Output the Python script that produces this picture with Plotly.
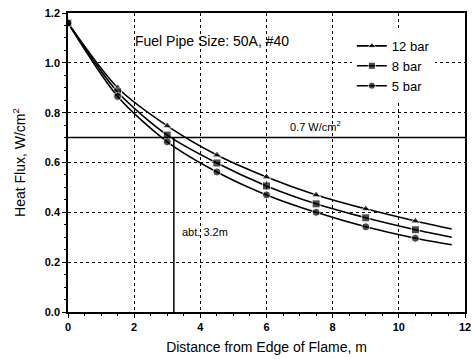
import plotly.graph_objects as go

x = [0, 1.5, 3, 4.5, 6, 7.5, 9, 10.5, 11.6]
bar12 = [1.16, 0.90, 0.747, 0.630, 0.542, 0.470, 0.414, 0.365, 0.333]
bar8 = [1.16, 0.883, 0.710, 0.598, 0.506, 0.434, 0.378, 0.330, 0.300]
bar5 = [1.16, 0.865, 0.683, 0.562, 0.470, 0.400, 0.342, 0.296, 0.270]
names = ["12 bar", "8 bar", "5 bar"]
symbols = ["triangle-up", "square", "circle"]
limit_flux = 0.7
limit_dist = 3.2

fig = go.Figure()
msize = [8] * (len(x) - 1) + [0]
for name, ys, sym in zip(names, [bar12, bar8, bar5], symbols):
    fig.add_trace(go.Scatter(
        x=x, y=ys, mode="lines+markers", name=name,
        line=dict(color="black", width=1.6, shape="spline", smoothing=0.8),
        marker=dict(symbol=sym, size=msize, color="black"),
    ))

# 0.7 W/cm2 line and 3.2 m drop line
fig.add_trace(go.Scatter(x=[0, 12], y=[limit_flux, limit_flux], mode="lines",
                         line=dict(color="black", width=1.5), showlegend=False))
fig.add_trace(go.Scatter(x=[limit_dist, limit_dist], y=[0, limit_flux], mode="lines",
                         line=dict(color="black", width=1.5), showlegend=False))

font = "Liberation Sans, Arial, sans-serif"
fig.add_annotation(x=1.95, y=1.088, xanchor="left", yanchor="middle", showarrow=False,
                   text="Fuel Pipe Size: 50A, #40", font=dict(size=14, color="black", family=font))
fig.add_annotation(x=6.65, y=0.745, xanchor="left", yanchor="middle", showarrow=False,
                   text="0.7 W/cm<sup>2</sup>", font=dict(size=11, color="black", family=font))
fig.add_annotation(x=3.38, y=0.32, xanchor="left", yanchor="middle", showarrow=False,
                   text="abt. 3.2m", font=dict(size=11, color="black", family=font))

axis_common = dict(
    showline=True, linecolor="black", linewidth=1.5, mirror=True,
    showgrid=True, gridcolor="black", griddash="dot", gridwidth=1,
    ticks="outside", ticklen=4, tickcolor="black", zeroline=False,
    tickfont=dict(size=11, color="black", family=font, weight="bold"),
    minor=dict(ticks="outside", ticklen=2, tickcolor="black", showgrid=False),
    automargin=False,
)

fig.update_xaxes(range=[0, 12], dtick=2, tick0=0,
                 title=dict(text="Distance from Edge of Flame, m", font=dict(size=14, color="black", family=font), standoff=10),
                 **axis_common)
fig.update_yaxes(range=[0, 1.2], dtick=0.2, tick0=0, tickformat=".1f",
                 title=dict(text="Heat Flux, W/cm<sup>2</sup>", font=dict(size=14, color="black", family=font), standoff=16),
                 **axis_common)

fig.update_layout(
    width=472, height=359,
    margin=dict(l=68, r=7, t=13, b=47),
    paper_bgcolor="white", plot_bgcolor="white",
    showlegend=True,
    legend=dict(x=0.715, y=0.94, xanchor="left", yanchor="top",
                bgcolor="rgba(255,255,255,1)", borderwidth=0,
                font=dict(size=13, color="black", family=font),
                itemwidth=30, tracegroupgap=0),
)

fig.write_html("out.html")
